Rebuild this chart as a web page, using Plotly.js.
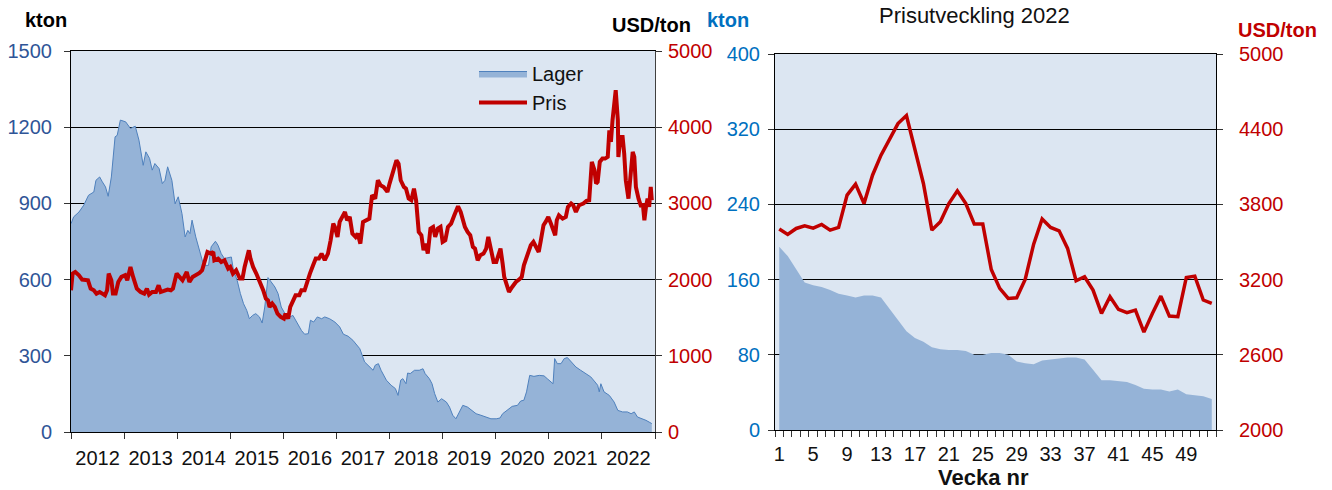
<!DOCTYPE html>
<html lang="sv">
<head>
<meta charset="UTF-8">
<title>Lager och pris</title>
<script src="https://cdn.plot.ly/plotly-3.0.1.min.js"></script>
<style>
    body { margin: 0; padding: 0; background: white; }
    #plot { width: 1332px; height: 490px; }
</style>
</head>
<body>
<div id="plot"></div>
<script>
// Left chart: weekly stocks (kton) and price (USD/ton), 2012-2022, x as decimal year
const lagerYears = [
    2012.00, 2012.05, 2012.15, 2012.24, 2012.33, 2012.43, 2012.47, 2012.54, 2012.59, 2012.65,
    2012.70, 2012.76, 2012.83, 2012.87, 2012.93, 2013.03, 2013.12, 2013.21, 2013.28, 2013.36,
    2013.41, 2013.48, 2013.53, 2013.58, 2013.66, 2013.72, 2013.77, 2013.82, 2013.90, 2013.96,
    2014.02, 2014.09, 2014.15, 2014.20, 2014.24, 2014.28, 2014.35, 2014.42, 2014.48, 2014.53,
    2014.59, 2014.64, 2014.72, 2014.77, 2014.83, 2014.89, 2014.96, 2015.02, 2015.06, 2015.13,
    2015.19, 2015.25, 2015.31, 2015.36, 2015.42, 2015.48, 2015.55, 2015.60, 2015.65, 2015.71,
    2015.77, 2015.84, 2015.90, 2015.96, 2016.03, 2016.12, 2016.18, 2016.26, 2016.34, 2016.40,
    2016.47, 2016.51, 2016.57, 2016.64, 2016.72, 2016.78, 2016.87, 2016.97, 2017.06, 2017.13,
    2017.22, 2017.31, 2017.38, 2017.44, 2017.53, 2017.62, 2017.69, 2017.73, 2017.79, 2017.84,
    2017.94, 2018.03, 2018.11, 2018.16, 2018.21, 2018.25, 2018.31, 2018.34, 2018.39, 2018.47,
    2018.56, 2018.63, 2018.67, 2018.75, 2018.80, 2018.85, 2018.91, 2018.98, 2019.07, 2019.13,
    2019.19, 2019.25, 2019.32, 2019.38, 2019.47, 2019.54, 2019.63, 2019.72, 2019.82, 2019.91,
    2020.01, 2020.08, 2020.13, 2020.22, 2020.31, 2020.41, 2020.47, 2020.53, 2020.58, 2020.64,
    2020.72, 2020.82, 2020.91, 2020.97, 2021.04, 2021.08, 2021.11, 2021.16, 2021.23, 2021.29,
    2021.35, 2021.42, 2021.51, 2021.60, 2021.70, 2021.79, 2021.87, 2021.92, 2021.95, 2021.98,
    2022.04, 2022.14, 2022.23, 2022.30, 2022.39, 2022.48, 2022.55, 2022.61, 2022.67, 2022.77,
    2022.83, 2022.89, 2022.94
];
const lagerKton = [
    820, 847, 866, 893, 932, 945, 991, 1004, 985, 965,
    928, 1004, 1162, 1168, 1228, 1221, 1195, 1204, 1149, 1050,
    1103, 1077, 1031, 1057, 1037, 978, 991, 1044, 991, 899,
    926, 860, 768, 794, 781, 834, 768, 716, 670, 656,
    656, 729, 751, 735, 702, 683, 687, 689, 637, 597,
    545, 505, 479, 446, 459, 466, 453, 429, 492, 608,
    591, 571, 545, 492, 466, 453, 459, 427, 400, 385,
    387, 440, 433, 453, 446, 453, 446, 433, 414, 385,
    377, 361, 341, 328, 276, 256, 243, 263, 269, 243,
    204, 184, 171, 144, 204, 210, 190, 232, 230, 243,
    243, 249, 230, 210, 190, 151, 118, 131, 118, 98,
    66, 52, 79, 105, 98, 85, 72, 66, 59, 52,
    52, 55, 72, 85, 101, 105, 122, 125, 158, 223,
    219, 223, 221, 210, 197, 190, 289, 269, 269, 289,
    293, 276, 256, 243, 230, 217, 197, 184, 158, 190,
    158, 144, 118, 85, 79, 79, 72, 79, 59, 52,
    46, 39, 33
];

const prisYears = [
    2012.00, 2012.03, 2012.08, 2012.15, 2012.21, 2012.27, 2012.32, 2012.37, 2012.43, 2012.48,
    2012.54, 2012.59, 2012.64, 2012.68, 2012.71, 2012.76, 2012.79, 2012.84, 2012.89, 2012.95,
    2013.02, 2013.06, 2013.12, 2013.17, 2013.24, 2013.31, 2013.38, 2013.43, 2013.47, 2013.53,
    2013.60, 2013.65, 2013.69, 2013.75, 2013.82, 2013.88, 2013.92, 2013.99, 2014.05, 2014.10,
    2014.18, 2014.23, 2014.29, 2014.35, 2014.42, 2014.47, 2014.53, 2014.57, 2014.64, 2014.68,
    2014.70, 2014.77, 2014.83, 2014.89, 2014.96, 2015.00, 2015.05, 2015.11, 2015.18, 2015.23,
    2015.27, 2015.31, 2015.35, 2015.38, 2015.43, 2015.49, 2015.55, 2015.62, 2015.67, 2015.71,
    2015.74, 2015.79, 2015.84, 2015.89, 2015.95, 2016.01, 2016.04, 2016.09, 2016.13, 2016.18,
    2016.23, 2016.30, 2016.34, 2016.40, 2016.45, 2016.50, 2016.56, 2016.61, 2016.67, 2016.72,
    2016.78, 2016.84, 2016.89, 2016.94, 2016.97, 2017.02, 2017.06, 2017.11, 2017.16, 2017.20,
    2017.25, 2017.30, 2017.36, 2017.40, 2017.45, 2017.50, 2017.56, 2017.62, 2017.67, 2017.73,
    2017.78, 2017.83, 2017.89, 2017.96, 2018.00, 2018.04, 2018.08, 2018.13, 2018.17, 2018.21,
    2018.27, 2018.31, 2018.36, 2018.41, 2018.46, 2018.50, 2018.55, 2018.60, 2018.64, 2018.68,
    2018.72, 2018.77, 2018.82, 2018.86, 2018.91, 2018.96, 2019.00, 2019.05, 2019.10, 2019.16,
    2019.22, 2019.29, 2019.34, 2019.38, 2019.42, 2019.47, 2019.52, 2019.57, 2019.61, 2019.66,
    2019.71, 2019.77, 2019.82, 2019.86, 2019.91, 2019.96, 2020.01, 2020.05, 2020.09, 2020.13,
    2020.16, 2020.20, 2020.25, 2020.31, 2020.38, 2020.44, 2020.49, 2020.53, 2020.60, 2020.66,
    2020.71, 2020.75, 2020.81, 2020.85, 2020.90, 2020.94, 2020.99, 2021.04, 2021.08, 2021.12,
    2021.15, 2021.19, 2021.26, 2021.32, 2021.36, 2021.42, 2021.46, 2021.51, 2021.57, 2021.65,
    2021.71, 2021.76, 2021.81, 2021.86, 2021.89, 2021.92, 2021.96, 2022.01, 2022.06, 2022.11,
    2022.14, 2022.17, 2022.20, 2022.23, 2022.26, 2022.30, 2022.31, 2022.35, 2022.39, 2022.42,
    2022.45, 2022.50, 2022.53, 2022.58, 2022.61, 2022.64, 2022.69, 2022.74, 2022.77, 2022.80,
    2022.83, 2022.86, 2022.89, 2022.92, 2022.94
];
const prisUsd = [
    1860, 2079, 2100, 2057, 2000, 2000, 1991, 1882, 1860, 1816,
    1838, 1816, 1794, 1860, 2079, 1991, 1816, 1816, 1969, 2035,
    2057, 1991, 2166, 2035, 1882, 1838, 1816, 1882, 1803, 1838,
    1838, 1925, 1838, 1851, 1869, 1860, 1882, 2079, 2035, 1991,
    2100, 1969, 2035, 2057, 2087, 2122, 2254, 2363, 2341, 2363,
    2254, 2276, 2232, 2254, 2144, 2166, 2079, 2122, 2013, 2013,
    2166, 2254, 2385, 2276, 2166, 2079, 1991, 1860, 1750, 1728,
    1641, 1685, 1641, 1553, 1510, 1488, 1553, 1488, 1641, 1728,
    1794, 1794, 1860, 1860, 1991, 2079, 2188, 2276, 2276, 2341,
    2254, 2341, 2516, 2735, 2691, 2560, 2757, 2823, 2888, 2779,
    2823, 2604, 2560, 2604, 2472, 2757, 2779, 2800, 3107, 3063,
    3304, 3238, 3216, 3151, 3260, 3370, 3457, 3566, 3522, 3304,
    3216, 3194, 3063, 3041, 3194, 3041, 2626, 2582, 2385, 2472,
    2341, 2669, 2691, 2560, 2669, 2691, 2494, 2516, 2691, 2735,
    2844, 2963, 2888, 2779, 2691, 2626, 2582, 2429, 2407, 2254,
    2319, 2341, 2407, 2560, 2385, 2232, 2232, 2341, 2407, 2210,
    2035, 1947, 1838, 1903, 1969, 2000, 2035, 2188, 2319, 2451,
    2494, 2429, 2363, 2516, 2713, 2757, 2823, 2735, 2669, 2582,
    2779, 2844, 2800, 2823, 2954, 2998, 2976, 2888, 2976, 2998,
    3033, 3041, 3545, 3435, 3260, 3282, 3545, 3588, 3588, 3610,
    3960, 3807, 4092, 4354, 4485, 4092, 3610, 3873, 3873, 3654,
    3304, 3063, 3348, 3676, 3610, 3216, 3063, 2954, 2998, 2779,
    2954, 3063, 2954, 3216, 3041
];
const yearLabels = ['2012', '2013', '2014', '2015', '2016', '2017', '2018', '2019', '2020', '2021', '2022'];

// Right chart: 2022 by week
const weeks = [
    1, 2, 3, 4, 5, 6, 7, 8, 9, 10, 11, 12, 13, 14, 15, 16, 17, 18, 19, 20, 21, 22, 23, 24, 25, 26,
    27, 28, 29, 30, 31, 32, 33, 34, 35, 36, 37, 38, 39, 40, 41, 42, 43, 44, 45, 46, 47, 48, 49, 50, 51, 52
];
const weekKton = [
    195, 185, 171, 157, 154, 152, 149, 145, 143, 141, 143, 143, 141, 129, 117, 105, 98, 94, 88, 86, 85, 85, 84, 80, 80, 82,
    82, 80, 73, 71, 70, 74, 75, 76, 77, 77, 75, 64, 53, 53, 52, 51, 48, 44, 43, 43, 41, 43, 38, 37, 36, 33
];
const weekUsd = [
    3603, 3560, 3608, 3629, 3611, 3640, 3595, 3616, 3874, 3962, 3807, 4033, 4193, 4326, 4445, 4509, 4233, 3967, 3595, 3661,
    3807, 3908, 3807, 3643, 3643, 3281, 3130, 3050, 3055, 3201, 3483, 3683, 3616, 3589, 3449, 3191, 3223, 3116, 2930, 3063,
    2962, 2936, 2957, 2781, 2930, 3068, 2909, 2904, 3217, 3228, 3037, 3010
];
const weekTickVals = [1, 5, 9, 13, 17, 21, 25, 29, 33, 37, 41, 45, 49];

const FONT = 'Arial, "Liberation Sans", sans-serif';
const BLUE_FILL = '#95b3d7';
const RED = '#c00000';
const W = 1332, H = 490;
const px = x => x / W;
const py = y => 1 - y / H;

const traces = [
    {
        x: lagerYears, y: lagerKton, type: 'scatter', mode: 'lines', name: 'Lager',
        fill: 'tozeroy', fillcolor: BLUE_FILL, line: {color: '#4f81bd', width: 1},
        xaxis: 'x', yaxis: 'y'
    },
    {
        x: prisYears, y: prisUsd, type: 'scatter', mode: 'lines', name: 'Pris',
        line: {color: RED, width: 4}, xaxis: 'x', yaxis: 'y2'
    },
    {
        x: weeks, y: weekKton, type: 'scatter', mode: 'lines', showlegend: false,
        fill: 'tozeroy', fillcolor: BLUE_FILL, line: {color: BLUE_FILL, width: 0},
        xaxis: 'x2', yaxis: 'y3'
    },
    {
        x: weeks, y: weekUsd, type: 'scatter', mode: 'lines', showlegend: false,
        line: {color: RED, width: 3.5}, xaxis: 'x2', yaxis: 'y4'
    }
];

const tickFont = c => ({family: FONT, size: 20, color: c});

const layout = {
    width: W, height: H,
    margin: {l: 0, r: 0, t: 0, b: 0},
    paper_bgcolor: 'white',
    plot_bgcolor: '#dce6f2',
    font: {family: FONT},
    showlegend: true,
    legend: {
        x: px(474), y: py(54), xanchor: 'left', yanchor: 'top',
        bgcolor: 'rgba(0,0,0,0)', font: {family: FONT, size: 20, color: '#111'},
        itemwidth: 48, tracegroupgap: 0
    },
    xaxis: {
        domain: [px(71), px(655)], anchor: 'y', range: [2012, 2023],
        tickmode: 'array', tickvals: yearLabels.map(y => +y + 0.5), ticktext: yearLabels,
        ticks: '', minor: {tick0: 2012, dtick: 1, ticks: 'outside', ticklen: 6, tickcolor: '#333', showgrid: false},
        showline: true, linecolor: '#000', mirror: true, showgrid: false, zeroline: false,
        tickfont: tickFont('#111'), ticklabelstandoff: 8
    },
    yaxis: {
        domain: [py(432), py(51)], anchor: 'x', range: [0, 1500], dtick: 300,
        ticks: 'outside', ticklen: 6, tickcolor: '#333',
        showline: true, linecolor: '#000', gridcolor: '#000', gridwidth: 1, zeroline: false,
        tickfont: tickFont('#2f5597'), ticklabelstandoff: 8
    },
    yaxis2: {
        overlaying: 'y', side: 'right', anchor: 'x', range: [0, 5000], dtick: 1000,
        ticks: 'outside', ticklen: 6, tickcolor: '#333',
        showline: true, linecolor: '#404040', showgrid: false, zeroline: false,
        tickfont: tickFont(RED), ticklabelstandoff: 2
    },
    xaxis2: {
        domain: [px(775), px(1216)], anchor: 'y3', range: [0.5, 52.5],
        tickmode: 'array', tickvals: weekTickVals, ticktext: weekTickVals.map(String),
        ticks: '', minor: {tick0: 0.5, dtick: 1, ticks: 'outside', ticklen: 6, tickcolor: '#333', showgrid: false},
        showline: true, linecolor: '#000', mirror: true, showgrid: false, zeroline: false,
        tickfont: tickFont('#111'), ticklabelstandoff: 6
    },
    yaxis3: {
        domain: [py(430), py(54)], anchor: 'x2', range: [0, 400], dtick: 80,
        ticks: 'outside', ticklen: 6, tickcolor: '#333',
        showline: true, linecolor: '#000', gridcolor: '#000', gridwidth: 1, zeroline: false,
        tickfont: tickFont('#0070c0'), ticklabelstandoff: 4
    },
    yaxis4: {
        overlaying: 'y3', side: 'right', anchor: 'x2', range: [2000, 5000], tick0: 2000, dtick: 600,
        ticks: 'outside', ticklen: 6, tickcolor: '#333',
        showline: true, linecolor: '#000', showgrid: false, zeroline: false,
        tickfont: tickFont(RED), ticklabelstandoff: 12
    },
    annotations: [
        {text: '<b>kton</b>', x: px(46), y: py(20), font: {family: FONT, size: 20, color: '#000'}},
        {text: '<b>USD/ton</b>', x: px(651), y: py(25), font: {family: FONT, size: 20, color: '#000'}},
        {text: '<b>kton</b>', x: px(728), y: py(20), font: {family: FONT, size: 20, color: '#0070c0'}},
        {text: 'Prisutveckling 2022', x: px(974), y: py(15), font: {family: FONT, size: 22, color: '#111'}},
        {text: '<b>USD/ton</b>', x: px(1277), y: py(30), font: {family: FONT, size: 20, color: RED}},
        {text: '<b>Vecka nr</b>', x: px(983), y: py(477), font: {family: FONT, size: 22, color: '#111'}}
    ].map(a => Object.assign({xref: 'paper', yref: 'paper', xanchor: 'center', yanchor: 'middle', showarrow: false}, a))
};

Plotly.newPlot('plot', traces, layout, {displayModeBar: false, responsive: false});
</script>
</body>
</html>
